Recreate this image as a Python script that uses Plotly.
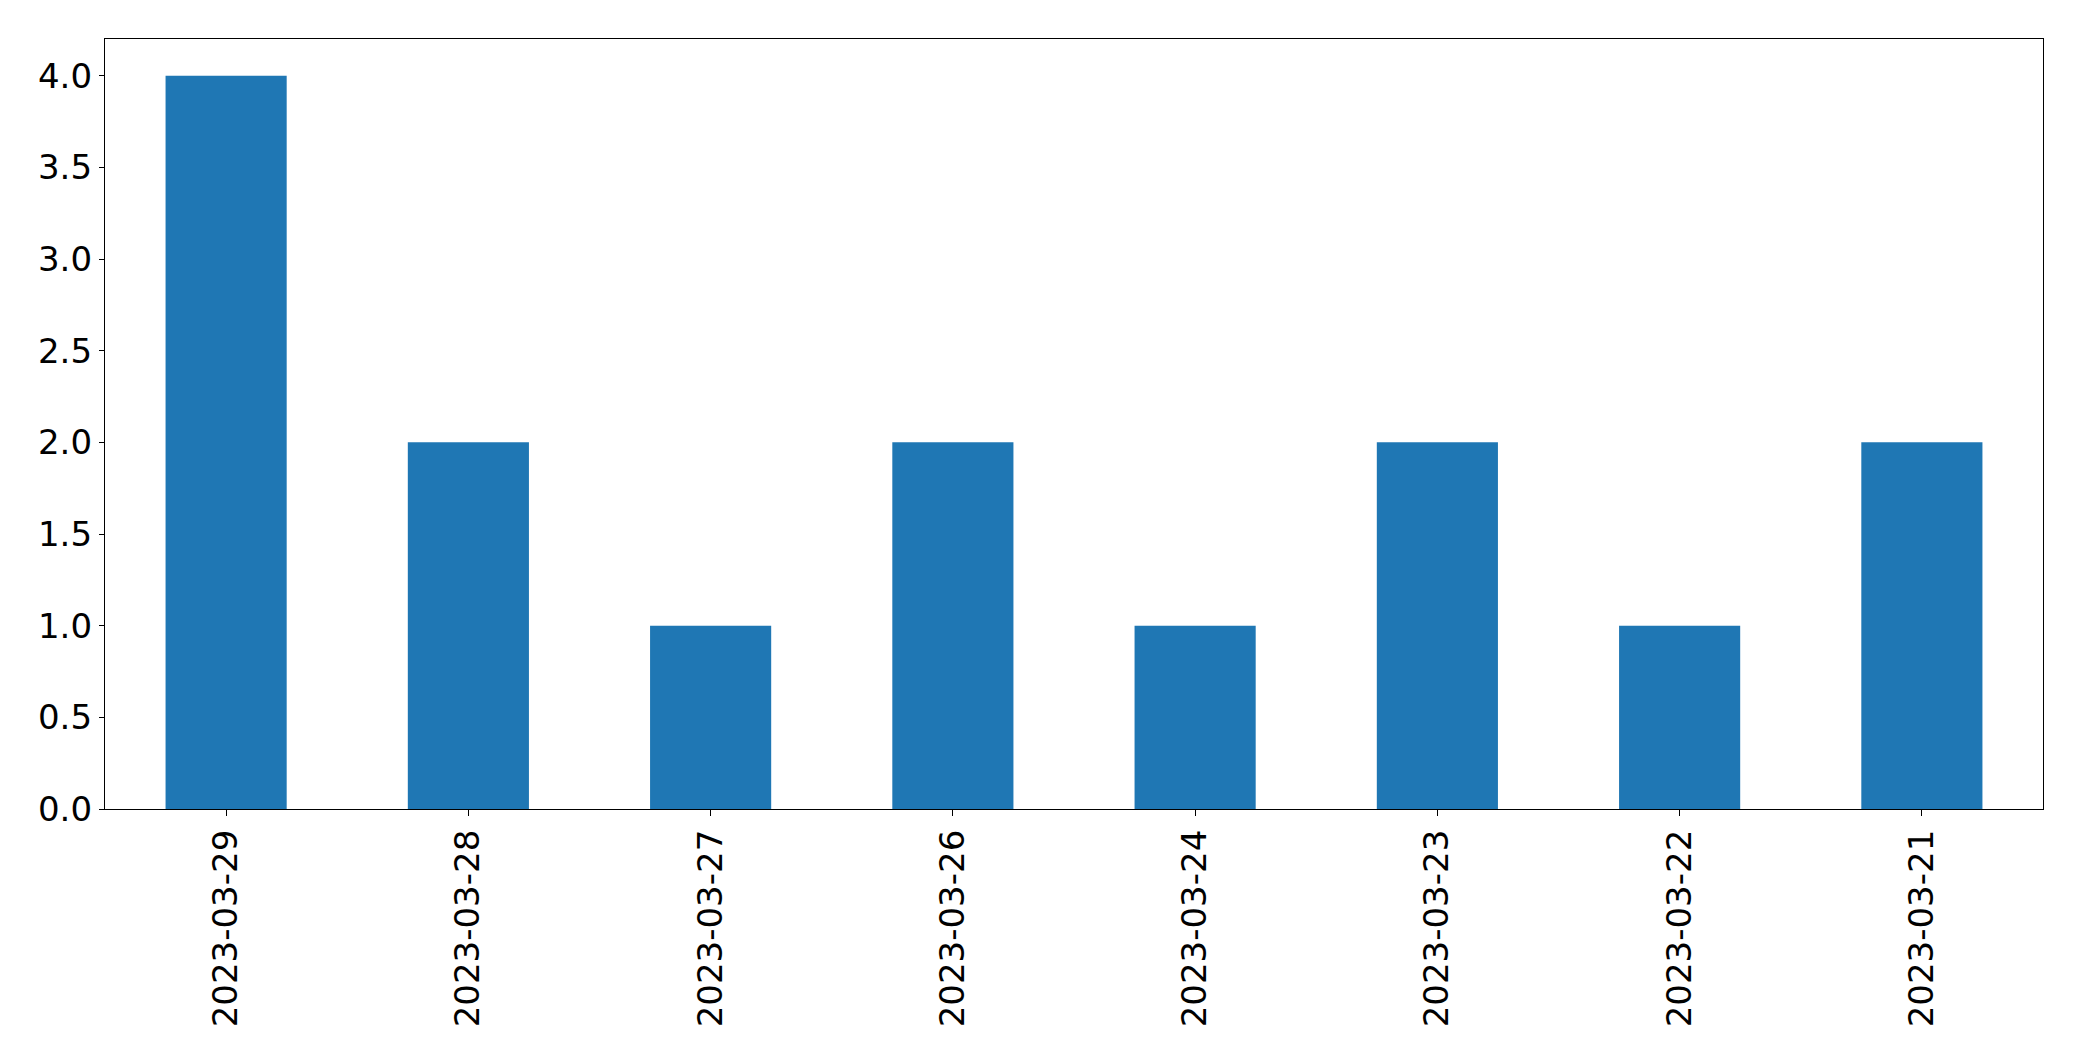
import plotly.graph_objects as go

dates = ["2023-03-29", "2023-03-28", "2023-03-27", "2023-03-26",
         "2023-03-24", "2023-03-23", "2023-03-22", "2023-03-21"]
counts = [4, 2, 1, 2, 1, 2, 1, 2]

fig = go.Figure(go.Bar(x=dates, y=counts, marker=dict(color="#1f77b4", line=dict(width=0))))

font = dict(family="DejaVu Sans", size=34, color="black")

fig.update_layout(
    width=2074, height=1053,
    margin=dict(l=97, r=39, t=31, b=252, pad=0),
    paper_bgcolor="white", plot_bgcolor="white",
    bargap=0.5,
    showlegend=False,
    font=font,
)
fig.update_xaxes(
    type="category", range=[-0.5, 7.5],
    showline=True, linecolor="black", linewidth=1.3, mirror=True,
    ticks="outside", ticklen=6, tickcolor="black", tickwidth=1.3,
    tickangle=-90, tickfont=font, showgrid=False, zeroline=False,
)
fig.update_yaxes(
    range=[0, 4.2], dtick=0.5, tick0=0, tickformat=".1f",
    showline=True, linecolor="black", linewidth=1.3, mirror=True,
    ticks="outside", ticklen=5, tickcolor="black", tickwidth=1.3,
    tickfont=font, showgrid=False, zeroline=False,
)

fig.write_html("out.html")
